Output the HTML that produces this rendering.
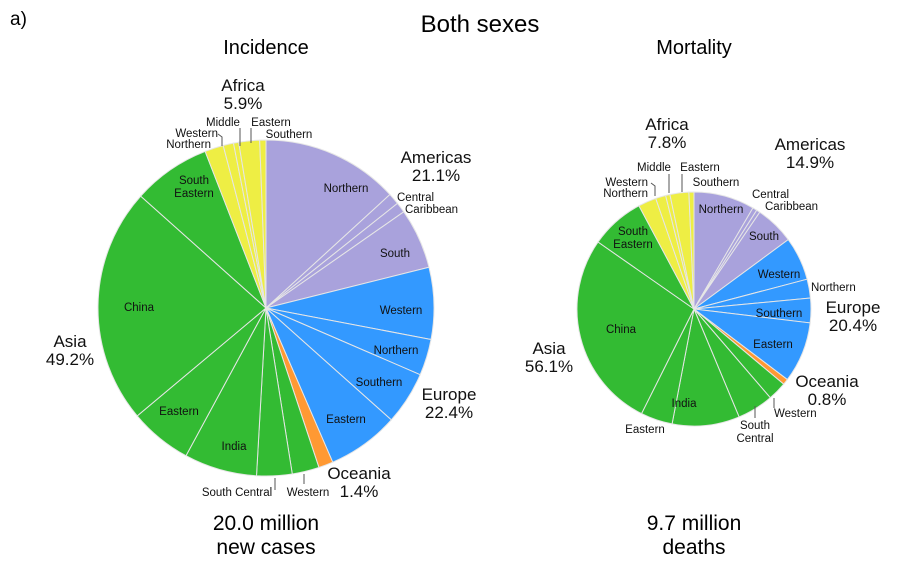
<!DOCTYPE html>
<html><head><meta charset="utf-8"><style>
body{margin:0;background:#fff;}
svg{display:block;font-family:"Liberation Sans",sans-serif;}
.s{font-size:11.5px;fill:#111;}
.r{font-size:17px;fill:#111;}
</style></head><body>
<svg id="chart" width="897" height="576" viewBox="0 0 897 576">
<text x="10" y="25" font-size="19">a)</text>
<text x="480" y="32" font-size="24" text-anchor="middle">Both sexes</text>
<text x="266" y="54" font-size="20" text-anchor="middle">Incidence</text>
<text x="694" y="54" font-size="20" text-anchor="middle">Mortality</text>
<g id="pieI"></g>
<g id="pieM"></g>
<g>
<text class="s" x="346" y="192" text-anchor="middle">Northern</text>
<text class="s" x="397" y="201">Central</text>
<text class="s" x="405" y="213">Caribbean</text>
<text class="s" x="395" y="257" text-anchor="middle">South</text>
<text class="s" x="401" y="314" text-anchor="middle">Western</text>
<text class="s" x="396" y="354" text-anchor="middle">Northern</text>
<text class="s" x="379" y="386" text-anchor="middle">Southern</text>
<text class="s" x="346" y="423" text-anchor="middle">Eastern</text>
<text class="s" x="139" y="311" text-anchor="middle">China</text>
<text class="s" x="194" y="184" text-anchor="middle">South</text>
<text class="s" x="194" y="197" text-anchor="middle">Eastern</text>
<text class="s" x="179" y="415" text-anchor="middle">Eastern</text>
<text class="s" x="234" y="450" text-anchor="middle">India</text>
<text class="s" x="237" y="496" text-anchor="middle">South Central</text>
<text class="s" x="308" y="496" text-anchor="middle">Western</text>
<text class="s" x="223" y="126" text-anchor="middle">Middle</text>
<text class="s" x="271" y="126" text-anchor="middle">Eastern</text>
<text class="s" x="218" y="137" text-anchor="end">Western</text>
<text class="s" x="211" y="148" text-anchor="end">Northern</text>
<text class="s" x="289" y="138" text-anchor="middle">Southern</text>
<path d="M240 128L240 146M251 128L251 143M218 134L222 137L222 146M275 490L275 478M304 484L304 474" stroke="#555" stroke-width="1" fill="none"/>
<text class="r" x="243" y="91" text-anchor="middle">Africa</text>
<text class="r" x="243" y="109" text-anchor="middle">5.9%</text>
<text class="r" x="436" y="163" text-anchor="middle">Americas</text>
<text class="r" x="436" y="181" text-anchor="middle">21.1%</text>
<text class="r" x="449" y="400" text-anchor="middle">Europe</text>
<text class="r" x="449" y="418" text-anchor="middle">22.4%</text>
<text class="r" x="359" y="479" text-anchor="middle">Oceania</text>
<text class="r" x="359" y="497" text-anchor="middle">1.4%</text>
<text class="r" x="70" y="347" text-anchor="middle">Asia</text>
<text class="r" x="70" y="365" text-anchor="middle">49.2%</text>
<text x="266" y="530" font-size="21" text-anchor="middle">20.0 million</text>
<text x="266" y="554" font-size="21" text-anchor="middle">new cases</text>
</g>
<g>
<text class="s" x="721" y="213" text-anchor="middle">Northern</text>
<text class="s" x="752" y="198">Central</text>
<text class="s" x="765" y="210">Caribbean</text>
<text class="s" x="764" y="240" text-anchor="middle">South</text>
<text class="s" x="779" y="278" text-anchor="middle">Western</text>
<text class="s" x="811" y="291">Northern</text>
<text class="s" x="779" y="317" text-anchor="middle">Southern</text>
<text class="s" x="773" y="348" text-anchor="middle">Eastern</text>
<text class="s" x="621" y="333" text-anchor="middle">China</text>
<text class="s" x="633" y="235" text-anchor="middle">South</text>
<text class="s" x="633" y="248" text-anchor="middle">Eastern</text>
<text class="s" x="645" y="433" text-anchor="middle">Eastern</text>
<text class="s" x="684" y="407" text-anchor="middle">India</text>
<text class="s" x="755" y="429" text-anchor="middle">South</text>
<text class="s" x="755" y="442" text-anchor="middle">Central</text>
<text class="s" x="774" y="417">Western</text>
<text class="s" x="654" y="171" text-anchor="middle">Middle</text>
<text class="s" x="700" y="171" text-anchor="middle">Eastern</text>
<text class="s" x="648" y="186" text-anchor="end">Western</text>
<text class="s" x="648" y="197" text-anchor="end">Northern</text>
<text class="s" x="716" y="186" text-anchor="middle">Southern</text>
<path d="M669 174L669 193M682 174L682 192M651 183L655 186L655 196M755 418L755 406M774 408L774 398" stroke="#555" stroke-width="1" fill="none"/>
<text class="r" x="667" y="130" text-anchor="middle">Africa</text>
<text class="r" x="667" y="148" text-anchor="middle">7.8%</text>
<text class="r" x="810" y="150" text-anchor="middle">Americas</text>
<text class="r" x="810" y="168" text-anchor="middle">14.9%</text>
<text class="r" x="853" y="313" text-anchor="middle">Europe</text>
<text class="r" x="853" y="331" text-anchor="middle">20.4%</text>
<text class="r" x="827" y="387" text-anchor="middle">Oceania</text>
<text class="r" x="827" y="405" text-anchor="middle">0.8%</text>
<text class="r" x="549" y="354" text-anchor="middle">Asia</text>
<text class="r" x="549" y="372" text-anchor="middle">56.1%</text>
<text x="694" y="530" font-size="21" text-anchor="middle">9.7 million</text>
<text x="694" y="554" font-size="21" text-anchor="middle">deaths</text>
</g>
</svg>
<script>
const subregions = ["Americas-Northern","Americas-Central","Americas-Caribbean","Americas-South","Europe-Western","Europe-Northern","Europe-Southern","Europe-Eastern","Oceania","Asia-Western","Asia-SouthCentral","Asia-India","Asia-Eastern","Asia-China","Asia-SouthEastern","Africa-Northern","Africa-Western","Africa-Middle","Africa-Eastern","Africa-Southern"];
const regionOf = ["Americas","Americas","Americas","Americas","Europe","Europe","Europe","Europe","Oceania","Asia","Asia","Asia","Asia","Asia","Asia","Africa","Africa","Africa","Africa","Africa"];
const incidence = [13.2,1.1,1.0,5.8,6.9,3.5,5.1,6.9,1.4,2.6,3.4,7.0,6.0,22.7,7.5,1.8,1.0,0.5,2.0,0.6];
const mortality = [8.4,0.6,0.5,5.4,6.0,2.6,3.4,8.4,0.8,2.6,5.0,9.3,4.4,27.3,7.5,2.5,1.4,0.6,2.6,0.7];
const colors = {Americas:"#a9a2dc",Europe:"#3399ff",Oceania:"#ff9933",Asia:"#33bb33",Africa:"#eeee44"};
const NS="http://www.w3.org/2000/svg";
function drawPie(gid, values, cx, cy, r){
  const g=document.getElementById(gid);
  const total=values.reduce((a,b)=>a+b,0);
  let acc=0;
  values.forEach((v,i)=>{
    const a0=acc/total*2*Math.PI, a1=(acc+v)/total*2*Math.PI; acc+=v;
    const x0=cx+r*Math.sin(a0), y0=cy-r*Math.cos(a0), x1=cx+r*Math.sin(a1), y1=cy-r*Math.cos(a1);
    const large=(a1-a0)>Math.PI?1:0;
    const p=document.createElementNS(NS,"path");
    p.setAttribute("d",`M${cx},${cy}L${x0},${y0}A${r},${r} 0 ${large} 1 ${x1},${y1}Z`);
    p.setAttribute("fill",colors[regionOf[i]]);
    p.setAttribute("stroke","#e6e6e6");
    p.setAttribute("stroke-width","1");
    
    
    g.appendChild(p);
  });
}
drawPie("pieI", incidence, 266, 308, 168);
drawPie("pieM", mortality, 694, 309, 117);
</script>
</body></html>
